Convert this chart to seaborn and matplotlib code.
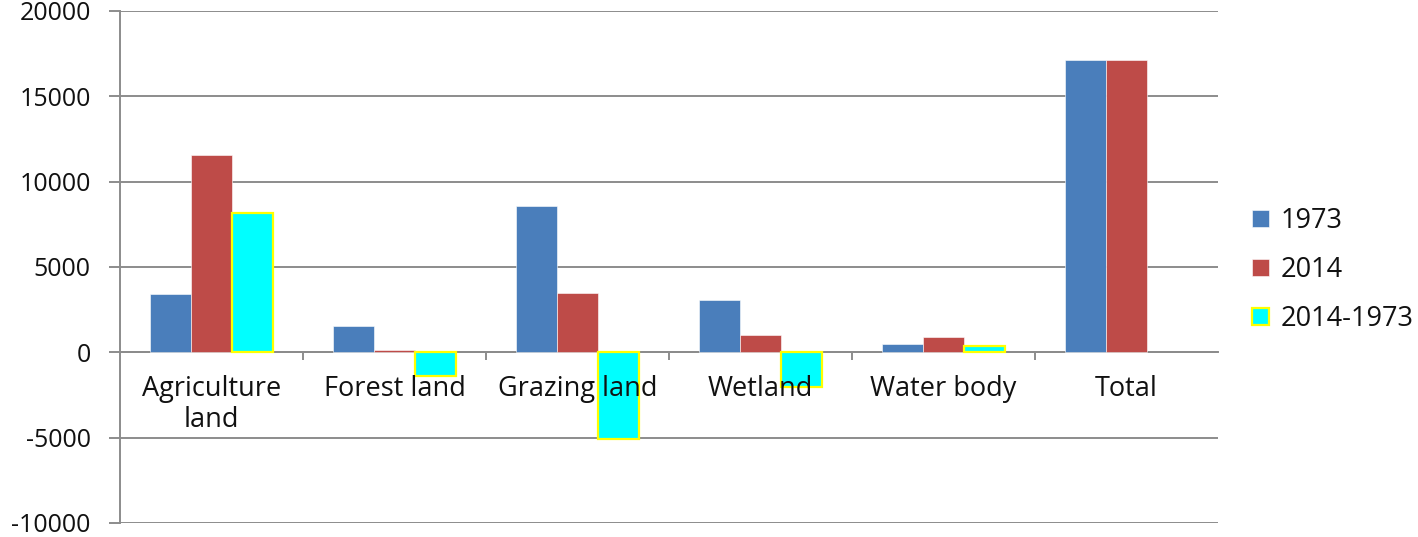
import pandas as pd
import matplotlib.pyplot as plt
import seaborn as sns
import numpy as np

# valores
categorias = ['Agriculture\nland', 'Forest land', 'Grazing land', 'Wetland', 'Water body', 'Total']
series = ['1973', '2014', '2014-1973']
v1973 = [3400, 1520, 8550, 3050, 480, 17150]
v2014 = [11580, 130, 3500, 1000, 880, 17150]
vdiff = [8180, -1390, -5050, -2050, 400, np.nan]

colores = ['#4A7EBB', '#BE4B48', '#00FFFF']

df = pd.DataFrame({
    'cat': categorias * 3,
    'serie': np.repeat(series, len(categorias)),
    'valor': v1973 + v2014 + vdiff,
})

sns.set_style('white')
plt.rcParams['font.family'] = ['Open Sans', 'DejaVu Sans']
plt.rcParams['axes.unicode_minus'] = False
plt.rcParams['text.color'] = '#111111'
plt.rcParams['xtick.labelcolor'] = '#111111'
plt.rcParams['ytick.labelcolor'] = '#111111'

fig = plt.figure(figsize=(14.18, 5.37), dpi=100)
ax = fig.add_axes([120 / 1418, 14 / 537, 1098 / 1418, 512 / 537])

sns.barplot(data=df, x='cat', y='valor', hue='serie', hue_order=series,
            order=categorias, palette=colores, width=0.667, gap=0, ax=ax,
            legend=False, saturation=1)

# bordes de las barras
for i, cont in enumerate(ax.containers):
    for b in cont:
        if i == 2:
            b.set_edgecolor('#FFFF00')
            b.set_linewidth(1.6)
        else:
            b.set_edgecolor('white')
            b.set_linewidth(0.4)

ax.set_ylim(-10000, 20000)
ax.set_yticks(np.arange(-10000, 20001, 5000))
ax.set_xlim(-0.5, len(categorias) - 0.5)
ax.yaxis.grid(True, color='#8C8C8C', linewidth=1.4)
ax.set_axisbelow(True)
ax.xaxis.set_zorder(5)
ax.set_xlabel('')
ax.set_ylabel('')

for s in ['top', 'right']:
    ax.spines[s].set_visible(False)
ax.spines['left'].set_color('#8C8C8C')
ax.spines['left'].set_linewidth(1.4)
ax.spines['bottom'].set_position(('data', 0))
ax.spines['bottom'].set_color('#8C8C8C')
ax.spines['bottom'].set_linewidth(1.4)
ax.spines['bottom'].set_zorder(0.5)

ax.tick_params(axis='y', which='both', left=True, length=8, color='#8C8C8C',
               width=1.4, labelsize=18, pad=13)
ax.set_xticks(np.arange(len(categorias)))
ax.set_xticklabels(categorias)
ax.set_xticks(np.arange(0.5, len(categorias) - 0.5, 1), minor=True)
ax.tick_params(axis='x', which='major', length=0, labelsize=19.5, pad=16.5)
ax.tick_params(axis='x', which='minor', bottom=True, length=6, color='#8C8C8C', width=1.4)
for t in ax.get_xticklabels():
    t.set_linespacing(1.12)

handles = [plt.Rectangle((0, 0), 1, 1, facecolor=colores[0], edgecolor='white', linewidth=0.4),
           plt.Rectangle((0, 0), 1, 1, facecolor=colores[1], edgecolor='white', linewidth=0.4),
           plt.Rectangle((0, 0), 1, 1, facecolor=colores[2], edgecolor='#FFFF00', linewidth=1.6)]
fig.legend(handles, series, loc='center left', bbox_to_anchor=(1247 / 1418, 1 - 270 / 537),
           frameon=False, fontsize=19.5, handlelength=0.6, handleheight=0.6,
           handletextpad=0.45, labelspacing=0.78, borderpad=0.2, borderaxespad=0)

fig.savefig('out.png', dpi=100)
plt.close()
